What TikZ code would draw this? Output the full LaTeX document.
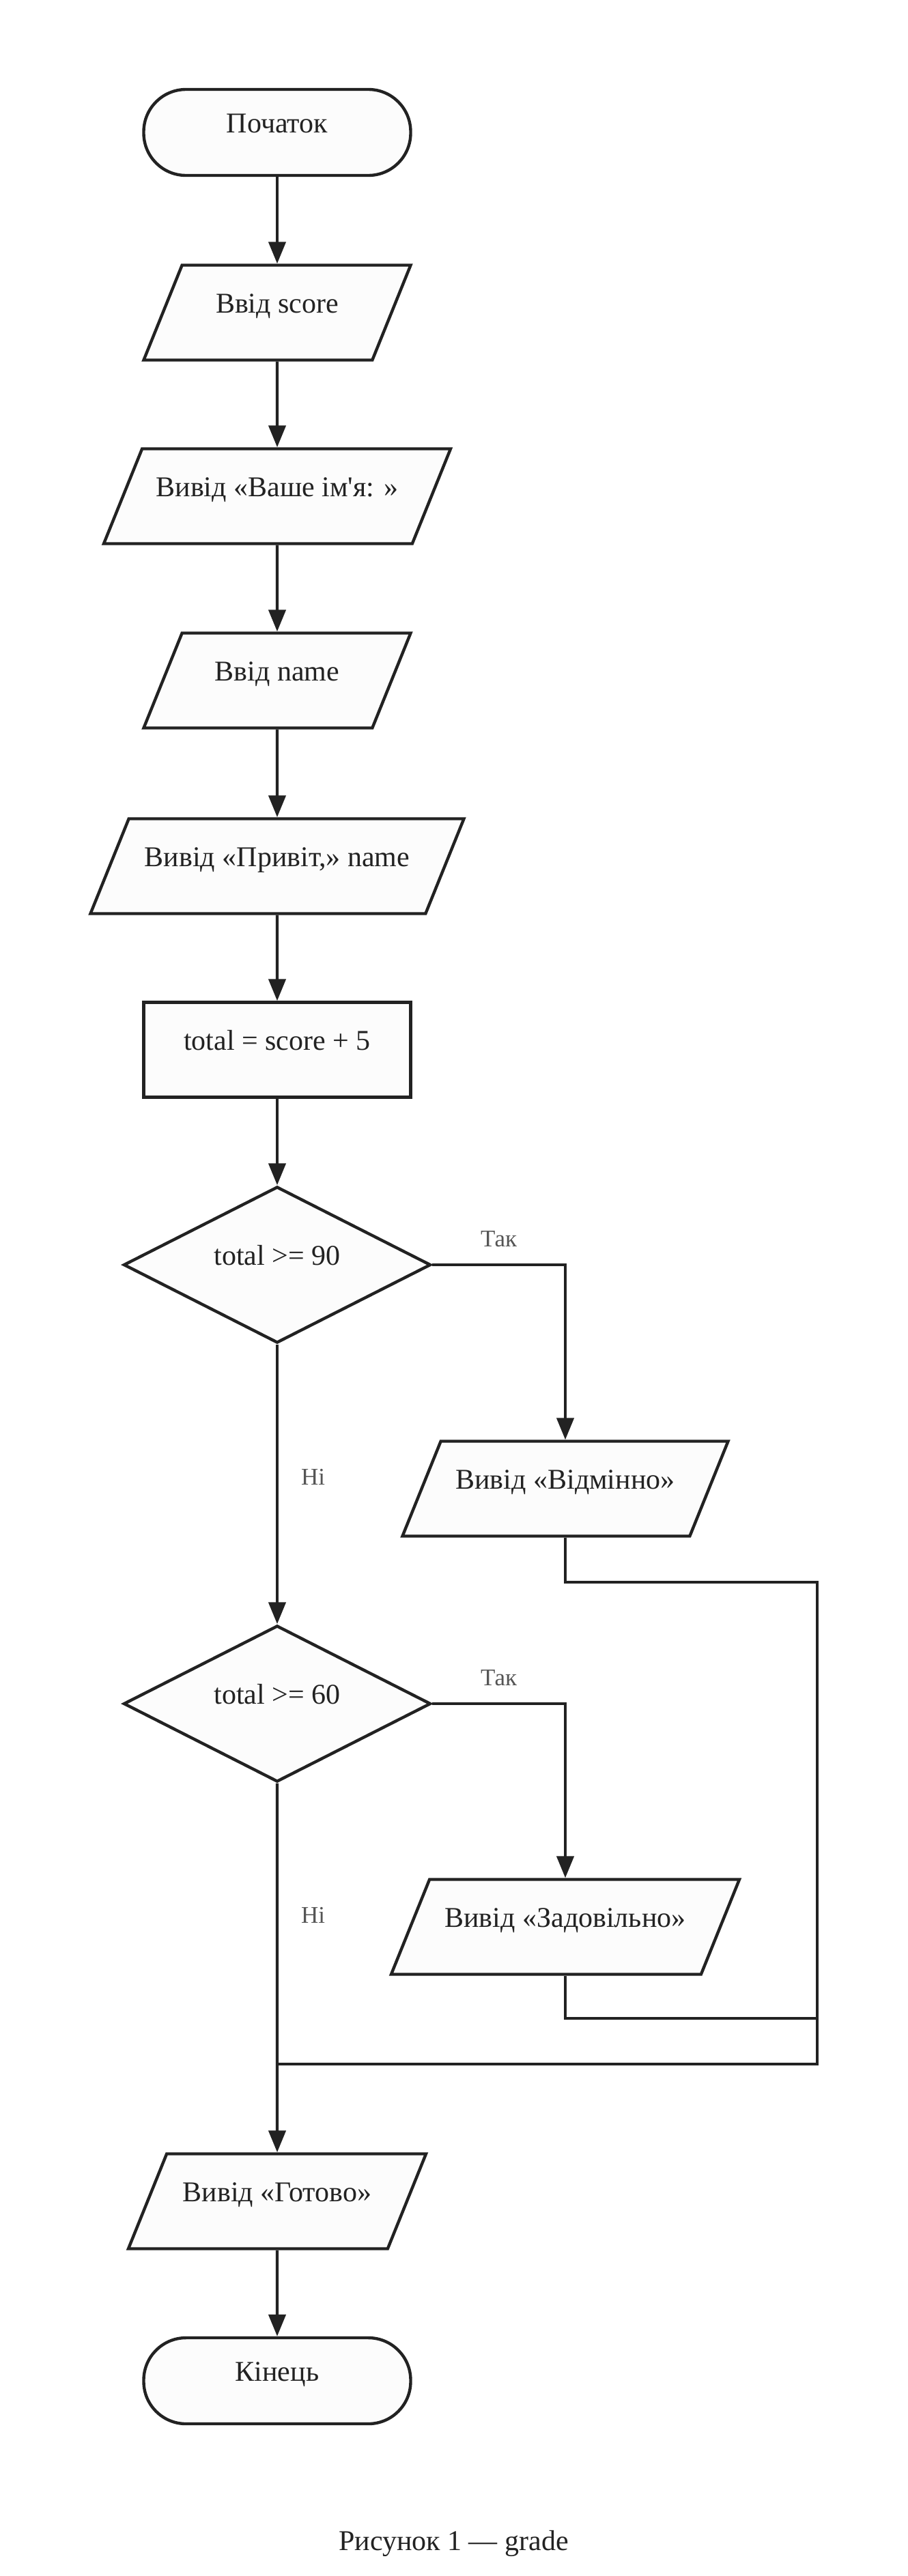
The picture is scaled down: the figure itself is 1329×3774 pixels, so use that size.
\documentclass[tikz,border=0pt]{standalone}
\usepackage{fontspec}
\newfontfamily\chartfont{Liberation Serif}
\usepackage{tikz}
\usetikzlibrary{shapes.geometric, positioning, arrows.meta, calc}
\definecolor{ink}{HTML}{222222}
\definecolor{paper}{HTML}{FCFCFC}
\definecolor{labelgray}{HTML}{555555}
\tikzset{
  block/.style={draw=ink, fill=paper, line width=2.2pt, text=ink, text centered, inner sep=4pt,
    font=\chartfont\fontsize{21}{25}\selectfont, text height=14pt, text depth=14pt},
  startstop/.style={block, rectangle, rounded corners=31pt, minimum width=195.5pt, minimum height=63pt},
  process/.style={block, rectangle, minimum width=195.5pt, minimum height=69.5pt},
  decision/.style={block, diamond, aspect=2, minimum width=225pt, minimum height=114.5pt},
  io/.style={block, trapezium, trapezium left angle=68, trapezium right angle=112, trapezium stretches body=true,
    inner ysep=20.75pt, minimum height=69.5pt},
  line/.style={draw=ink, line width=2.2pt},
  arrow/.style={line, -{Triangle[length=16pt, width=12.5pt]}},
  edgelabel/.style={font=\chartfont\fontsize{17.5}{20}\selectfont, text=labelgray, inner sep=0pt},
  caption/.style={font=\chartfont\fontsize{21}{25}\selectfont, text=ink, inner sep=0pt}
}

\begin{document}
\begin{tikzpicture}[x=0.5pt, y=-0.5pt]
    \useasboundingbox (0,0) rectangle (1329,3774);
    \fill[white] (0,0) rectangle (1329,3774);

    % ==========================================
    % 1. Blocks of the main column
    % ==========================================
    \node[startstop] (start) at (406,194) {Початок};
    \node[io, minimum width=195.5pt] (inscore) at (406,458) {Ввід score};
    \node[io, minimum width=254pt] (askname) at (406,727) {Вивід «Ваше ім'я: »};
    \node[io, minimum width=195.5pt] (inname) at (406,997) {Ввід name};
    \node[io, minimum width=273.5pt] (hello) at (406,1269) {Вивід «Привіт,» name};
    \node[process] (total) at (406,1538) {total = score + 5};
    \node[decision] (d90) at (406,1853) {total >= 90};
    \node[decision] (d60) at (406,2496) {total >= 60};
    \node[io, minimum width=218pt] (done) at (406,3225) {Вивід «Готово»};
    \node[startstop] (stop) at (406,3488) {Кінець};

    % ==========================================
    % 2. Branch blocks (right side)
    % ==========================================
    \node[io, minimum width=238.5pt] (excel) at (828,2181) {Вивід «Відмінно»};
    \node[io, minimum width=255pt] (fair) at (828,2823) {Вивід «Задовільно»};

    % Junction points of the return lines
    \coordinate (rail) at (1197,3024);
    \coordinate (merge) at (406,3024);
    \coordinate (join) at (1197,2957);

    % ==========================================
    % 3. Connectors
    % ==========================================
    \draw[arrow] (start) -- (inscore);
    \draw[arrow] (inscore) -- (askname);
    \draw[arrow] (askname) -- (inname);
    \draw[arrow] (inname) -- (hello);
    \draw[arrow] (hello) -- (total);
    \draw[arrow] (total) -- (d90);

    % Yes / No of the first test
    \draw[arrow] (d90.east) -| node[edgelabel, pos=0.25, anchor=base, yshift=13.5pt] {Так} (excel.north);
    \draw[arrow] (d90.south) -- node[edgelabel, pos=0.502, anchor=base west, xshift=16.5pt] {Ні} (d60.north);

    % Yes / No of the second test
    \draw[arrow] (d60.east) -| node[edgelabel, pos=0.25, anchor=base, yshift=13.5pt] {Так} (fair.north);
    \draw[arrow] (d60.south) -- node[edgelabel, pos=0.379, anchor=base west, xshift=16.5pt] {Ні} (done.north);

    % Return lines
    \draw[line] (excel.south) -- ++(0,65) -| (rail) -- (merge);
    \draw[line] (fair.south) |- (join);

    \draw[arrow] (done) -- (stop);

    % Caption
    \node[caption, anchor=base] (figcap) at (664.5,3736) {Рисунок 1 — grade};

\end{tikzpicture}
\end{document}
